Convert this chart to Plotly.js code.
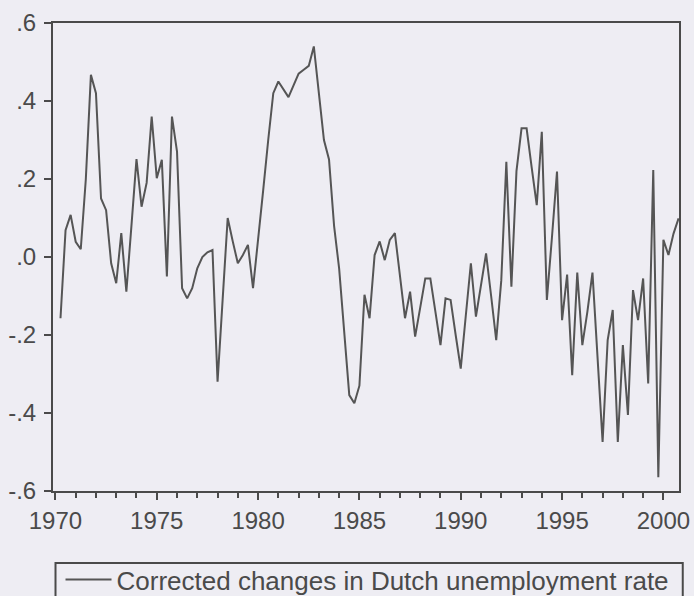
<!DOCTYPE html>
<html>
<head>
<meta charset="utf-8">
<script src="https://cdn.plot.ly/plotly-3.0.1.min.js"></script>
<style>
html,body{margin:0;padding:0;background:#eeedf3;}
#chart{width:694px;height:596px;}
</style>
</head>
<body>
<div id="chart"></div>
<script>
// Quarterly observations, 1970Q2 .. 2000Q4
const startYear = 1970;
const startQuarter = 2;
const seriesName = "Corrected changes in Dutch unemployment rate";
const values = [
  -0.157, 0.069, 0.108, 0.039, 0.020, 0.20, 0.467, 0.42, 0.150, 0.12,
  -0.016, -0.067, 0.061, -0.089, 0.08, 0.251, 0.129, 0.19, 0.36, 0.202,
  0.249, -0.050, 0.36, 0.27, -0.08, -0.106, -0.08, -0.029, 0.0, 0.012,
  0.018, -0.32, -0.11, 0.10, 0.04, -0.016, 0.005, 0.031, -0.08, 0.04,
  0.17, 0.30, 0.42, 0.45, 0.43, 0.41, 0.44, 0.47, 0.48, 0.49,
  0.54, 0.42, 0.30, 0.25, 0.08, -0.03, -0.20, -0.354, -0.375, -0.33,
  -0.097, -0.157, 0.005, 0.04, -0.008, 0.044, 0.061, -0.05, -0.157, -0.089,
  -0.204, -0.13, -0.055, -0.055, -0.14, -0.226, -0.106, -0.11, -0.2, -0.286,
  -0.15, -0.016, -0.153, -0.07, 0.009, -0.1, -0.213, -0.06, 0.244, -0.076,
  0.22, 0.33, 0.33, 0.23, 0.133, 0.321, -0.11, 0.05, 0.219, -0.162,
  -0.045, -0.303, -0.04, -0.226, -0.14, -0.04, -0.26, -0.474, -0.213, -0.136,
  -0.474, -0.226, -0.405, -0.085, -0.162, -0.055, -0.324, 0.223, -0.565, 0.044,
  0.005, 0.06, 0.099
];
const yTickVals = [-0.6, -0.4, -0.2, 0.0, 0.2, 0.4, 0.6];
const yTickText = ["-.6", "-.4", "-.2", ".0", ".2", ".4", ".6"];
const xTickVals = [1970, 1975, 1980, 1985, 1990, 1995, 2000];
const xTickText = ["1970", "1975", "1980", "1985", "1990", "1995", "2000"];

const dates = values.map((v, i) => startYear + (startQuarter - 1 + i) / 4);

const axisColor = "#4a4a4a";
const textColor = "#4a4a4a";
const fontFam = "Liberation Sans, Arial, sans-serif";

const trace = {
  x: dates,
  y: values,
  type: "scatter",
  mode: "lines",
  name: seriesName,
  line: {color: "#555555", width: 2}
};

const layout = {
  width: 694,
  height: 596,
  paper_bgcolor: "#eeedf3",
  plot_bgcolor: "#eeedf3",
  margin: {l: 53, r: 15, t: 23, b: 105, pad: 0, autoexpand: false},
  showlegend: true,
  legend: {
    x: 0.012, xanchor: "left",
    y: -0.139, yanchor: "top",
    bgcolor: "rgba(0,0,0,0)",
    borderwidth: 0,
    font: {family: fontFam, size: 26, color: textColor},
    itemwidth: 46
  },
  xaxis: {
    range: [1969.88, 2000.77],
    showgrid: false,
    zeroline: false,
    showline: true,
    linecolor: axisColor,
    linewidth: 2,
    mirror: true,
    ticks: "outside",
    ticklen: 7,
    tickwidth: 2,
    tickcolor: axisColor,
    tickvals: xTickVals,
    ticktext: xTickText,
    tickfont: {family: fontFam, size: 24, color: textColor},
    minor: {dtick: 1, tick0: 1970, ticks: "outside", ticklen: 5, tickwidth: 2, tickcolor: axisColor, showgrid: false}
  },
  yaxis: {
    range: [-0.6, 0.6],
    showgrid: false,
    zeroline: false,
    showline: true,
    linecolor: axisColor,
    linewidth: 2,
    mirror: true,
    ticks: "outside",
    ticklen: 7,
    tickwidth: 2,
    tickcolor: axisColor,
    ticklabelstandoff: 3,
    tickvals: yTickVals,
    ticktext: yTickText,
    tickfont: {family: fontFam, size: 24, color: textColor}
  },
  shapes: [
    {type: "rect", xref: "paper", yref: "paper",
     x0: 0.004, x1: 1.006, y0: -0.26, y1: -0.154,
     line: {color: axisColor, width: 2}, fillcolor: "rgba(0,0,0,0)"}
  ]
};

Plotly.newPlot("chart", [trace], layout, {displayModeBar: false, staticPlot: true});
</script>
</body>
</html>
